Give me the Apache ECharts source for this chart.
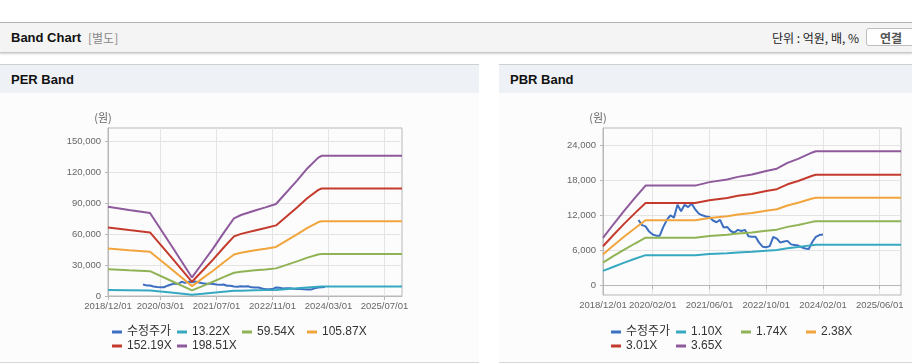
<!DOCTYPE html>
<html>
<head>
<meta charset="utf-8">
<script src="https://cdn.jsdelivr.net/npm/echarts@6/dist/echarts.min.js"></script>
<style>
  body { margin: 0; width: 912px; height: 364px; background: #fff; position: relative; overflow: hidden;
         font-family: "Liberation Sans", "Noto Sans CJK KR", sans-serif; }
  .bar { position: absolute; left: 0; top: 22px; width: 912px; height: 29px; background: #f4f4f4;
         border-top: 1px solid #b4b4b4; border-bottom: 1px solid #c8c8c8; box-shadow: 0 1px 2px rgba(0,0,0,0.18); }
  .bar .ttl { position: absolute; left: 11px; top: 0; line-height: 29px; font-size: 13px; font-weight: bold; color: #111; }
  .bar .sub { position: absolute; left: 88px; top: 0; line-height: 29px; font-size: 12px; color: #888;
              font-family: "Noto Sans CJK KR", sans-serif; }
  .bar .unit { position: absolute; right: 53px; top: 0; line-height: 29px; font-size: 12px; color: #222;
               font-family: "Noto Sans CJK KR", sans-serif; }
  .bar .btn { position: absolute; left: 866px; top: 5px; width: 60px; height: 18px; background: #fff;
              border: 1px solid #bdbdbd; border-radius: 3px; font-size: 12px; font-weight: bold; color: #555;
              line-height: 18px; padding-left: 13px; box-sizing: border-box; font-family: "Noto Sans CJK KR", sans-serif; }
  .panel { position: absolute; top: 64px; height: 297px; background: #fcfcfd;
           border-top: 1px solid #cfcfcf; border-bottom: 1px solid #d8d8d8; }
  .panel .head { height: 28px; background: #eef1f6; line-height: 30px; padding-left: 11px;
                 font-size: 13px; font-weight: bold; color: #111; }
  #chart { position: absolute; left: 0; top: 0; width: 912px; height: 364px; }
</style>
</head>
<body>
<div class="bar">
  <span class="ttl">Band Chart</span><span class="sub">[별도]</span>
  <span class="unit">단위 : 억원, 배, %</span>
  <div class="btn">연결</div>
</div>
<div class="panel" style="left:0;width:479px"><div class="head">PER Band</div></div>
<div class="panel" style="left:499px;width:413px"><div class="head">PBR Band</div></div>
<div id="chart"></div>
<script>
// 월별 카테고리 2018/12 ~ 2025/12
var months = [];
for (var y = 2018, mo = 12; y < 2026; ) {
    months.push(y + '/' + (mo < 10 ? '0' + mo : mo) + '/01');
    mo++;
    if (mo > 12) { mo = 1; y++; }
}

var perTicks = ['2018/12/01','2020/03/01','2021/07/01','2022/11/01','2024/03/01','2025/07/01'];
var pbrTicks = ['2018/12/01','2020/02/01','2021/06/01','2022/10/01','2024/02/01','2025/06/01'];
var perYTicks = [0, 30000, 60000, 90000, 120000, 150000];
var pbrYTicks = [0, 6000, 12000, 18000, 24000];

// 수정주가 (2019/10 ~ 2024/02)
var priceDates = months.slice(10, 63);
var price = [11200,10300,10100,9200,8700,8500,8500,10000,11200,12000,
             11600,13800,12700,13800,13400,14000,13000,12300,12000,11800,
             11700,11100,10800,11200,9900,10000,9300,9000,9500,9300,
             9500,8400,8300,8300,7300,6600,6500,6700,8300,8000,
             7300,7500,7600,7000,6900,6800,6500,6300,6200,7400,
             8300,8600,8700];

// PER band
var perDates = ['2018/12/01','2019/06/01','2019/12/01','2020/06/01','2020/12/01','2021/03/01','2021/06/01',
                '2021/09/01','2021/12/01','2022/02/01','2022/06/01','2022/09/01','2022/12/01','2023/06/01',
                '2023/09/01','2023/12/01','2024/01/01','2025/12/01'];
var per1 = [5800,5600,5400,3300,1200,2100,3100,4100,5000,5200,5500,5700,5900,7500,8300,8900,9100,9100];
var per2 = [26000,25000,24100,14800,5400,9600,13800,18300,22600,23600,24900,25800,26800,33600,37200,40200,40800,40800];
var per3 = [46200,44500,42900,26400,9600,17100,24500,32500,40200,41900,44300,45900,47600,59700,66100,71500,72500,72500];
var per4 = [66500,64000,61700,38000,13800,24500,35300,46800,57800,60300,63600,65900,68500,85900,95100,102700,104300,104300];
var per5 = [86700,83500,80500,49500,18000,32000,46000,61000,75400,78600,83000,86000,89300,112000,124000,134000,136000,136000];
var perNames = ['13.22X','59.54X','105.87X','152.19X','198.51X'];

// PBR band
var pbrDates = ['2018/12/01','2019/03/01','2019/06/01','2019/09/01','2019/12/01','2021/02/01','2021/06/01',
                '2021/11/01','2022/02/01','2022/06/01','2022/10/01','2023/01/01','2023/04/01','2023/07/01',
                '2023/11/01','2023/12/01','2025/12/01'];
var pbr1 = [2440,3160,3860,4520,5150,5150,5330,5470,5610,5730,5910,6030,6330,6540,6870,6930,6930];
var pbr2 = [3860,5010,6100,7150,8150,8150,8440,8650,8870,9060,9340,9530,10010,10340,10870,10960,10960];
var pbr3 = [5280,6850,8350,9780,11150,11150,11540,11840,12130,12390,12780,13040,13690,14150,14870,15000,15000];
var pbr4 = [6680,8660,10560,12370,14100,14100,14600,14970,15340,15670,16160,16490,17320,17900,18800,18970,18970];
var pbr5 = [8100,10500,12800,15000,17100,17100,17700,18150,18600,19000,19600,20000,21000,21700,22800,23000,23000];
var pbrNames = ['1.10X','1.74X','2.38X','3.01X','3.65X'];

var colors = ['#3d6fc1','#36a9c1','#90b356','#f1a53c','#c43b2e','#8e5a9c'];

function pairs(dates, vals) {
    return dates.map(function (d, i) { return [d, vals[i]]; });
}
function lineSeries(name, data, idx, color) {
    return {
        name: name, type: 'line', data: data, xAxisIndex: idx, yAxisIndex: idx,
        symbol: 'none', lineStyle: { width: 2, color: color }, itemStyle: { color: color },
        emphasis: { disabled: true }
    };
}
function fmt(v) { return v.toLocaleString('en-US'); }

var axisFont = { fontFamily: 'Liberation Sans', fontSize: 9.5, color: '#666' };

function xAxisOf(idx, ticks) {
    var show = function (i, val) { return ticks.indexOf(val) >= 0; };
    return {
        type: 'category', gridIndex: idx, data: months, boundaryGap: false,
        axisLine: { lineStyle: { color: '#b8b8b8' } },
        axisTick: { interval: show, length: 4, lineStyle: { color: '#b8b8b8' } },
        axisLabel: Object.assign({ interval: show, margin: 5 }, axisFont),
        splitLine: { show: true, interval: show, lineStyle: { color: '#e4e4e4' } }
    };
}
function yAxisOf(idx, min, max, ticks) {
    return {
        type: 'value', gridIndex: idx, min: min, max: max,
        name: '(원)', nameLocation: 'end', nameGap: 5,
        nameTextStyle: { fontFamily: 'Noto Sans CJK KR', fontSize: 11, color: '#666', padding: [0, 10, 0, 0] },
        axisLine: { show: true, lineStyle: { color: '#b8b8b8' } },
        axisTick: { show: true, length: 3, customValues: ticks, lineStyle: { color: '#b8b8b8' } },
        axisLabel: Object.assign({ margin: 7, customValues: ticks, formatter: fmt }, axisFont),
        splitLine: { show: true, lineStyle: { color: '#e4e4e4' } }
    };
}
function legendOf(left, names) {
    return {
        left: left, top: 320, width: 270, itemGap: 0, itemWidth: 10, itemHeight: 3, icon: 'rect',
        data: ['수정주가'].concat(names), selectedMode: false,
        textStyle: { fontFamily: 'Liberation Sans, Noto Sans CJK KR', fontSize: 12, color: '#333',
                     width: 50, lineHeight: 14, overflow: 'none' }
    };
}

var series = [lineSeries('수정주가', pairs(priceDates, price), 0, colors[0])];
[per1, per2, per3, per4, per5].forEach(function (v, i) {
    series.push(lineSeries(perNames[i], pairs(perDates, v), 0, colors[i + 1]));
});
series.push(lineSeries('수정주가', pairs(priceDates, price), 1, colors[0]));
[pbr1, pbr2, pbr3, pbr4, pbr5].forEach(function (v, i) {
    series.push(lineSeries(pbrNames[i], pairs(pbrDates, v), 1, colors[i + 1]));
});

var chart = echarts.init(document.getElementById('chart'));
chart.setOption({
    animation: false,
    grid: [
        { left: 108, top: 128, width: 294, height: 168, show: true, borderColor: '#b8b8b8', borderWidth: 1 },
        { left: 603, top: 128, width: 298, height: 167, show: true, borderColor: '#b8b8b8', borderWidth: 1 }
    ],
    xAxis: [xAxisOf(0, perTicks), xAxisOf(1, pbrTicks)],
    yAxis: [yAxisOf(0, 0, 163000, perYTicks), yAxisOf(1, -1700, 27000, pbrYTicks)],
    legend: [legendOf(107, perNames), legendOf(606, pbrNames)],
    series: series
});
</script>
</body>
</html>
